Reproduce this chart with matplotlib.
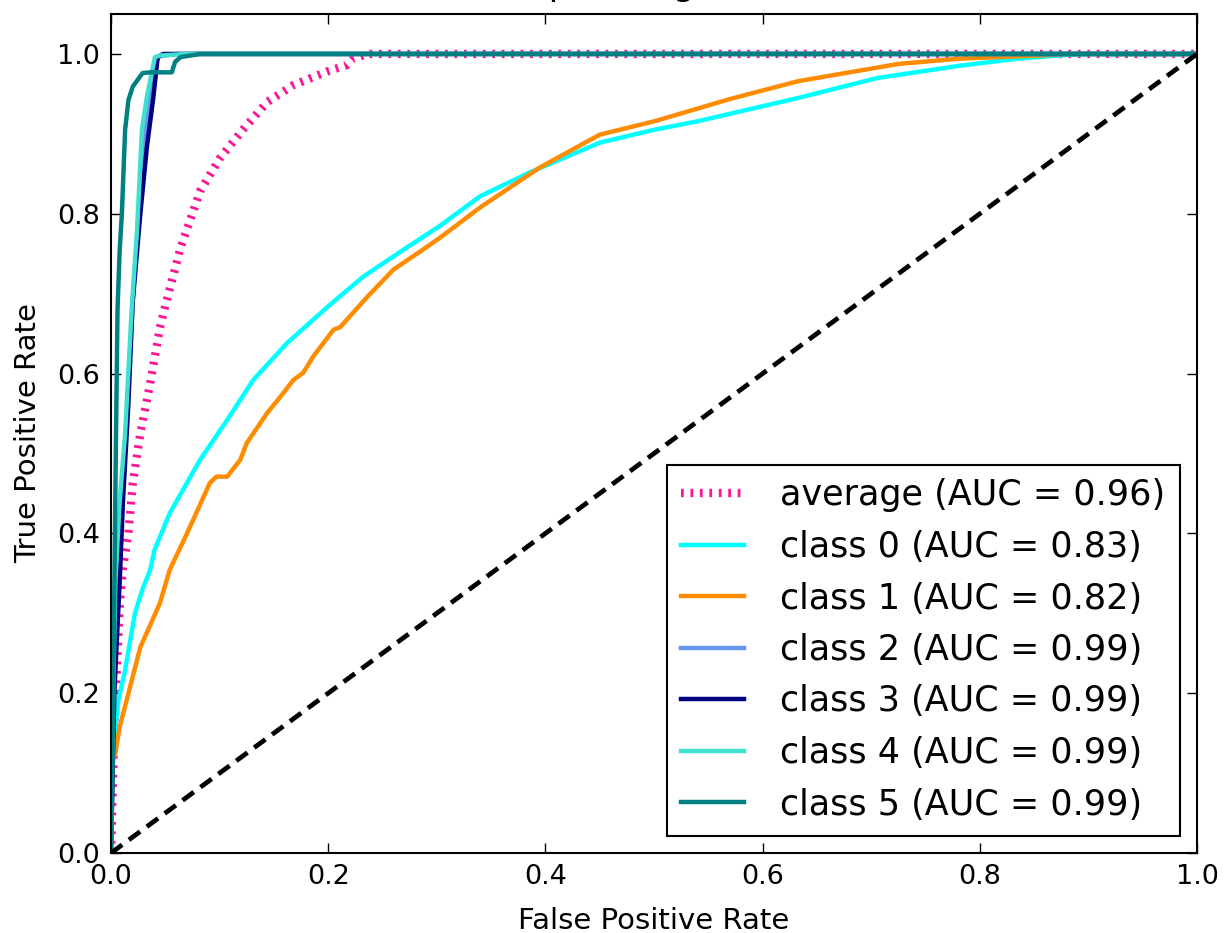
import matplotlib
matplotlib.use('Agg')
import matplotlib.pyplot as plt

# values
avg_fpr = [0.0, 0.001, 0.003, 0.005, 0.008, 0.011, 0.016, 0.020, 0.027, 0.036, 0.045, 0.051,
           0.064, 0.082, 0.100, 0.122, 0.144, 0.168, 0.199, 0.217, 0.223, 0.236, 1.0]
avg_tpr = [0.0, 0.05, 0.15, 0.22, 0.31, 0.357, 0.40, 0.462, 0.525, 0.587, 0.657, 0.69,
           0.757, 0.828, 0.869, 0.906, 0.94, 0.961, 0.978, 0.986, 0.994, 1.0, 1.0]

c0_fpr = [0.0, 0.001, 0.004, 0.0066, 0.013, 0.022, 0.029, 0.036, 0.040, 0.054, 0.082, 0.107,
          0.131, 0.162, 0.199, 0.232, 0.266, 0.303, 0.34, 0.386, 0.45, 0.50, 0.541, 0.633,
          0.706, 0.78, 0.834, 0.871, 0.90, 1.0]
c0_tpr = [0.0, 0.10, 0.154, 0.19, 0.229, 0.30, 0.33, 0.354, 0.379, 0.425, 0.492, 0.542,
          0.592, 0.638, 0.683, 0.721, 0.752, 0.785, 0.822, 0.852, 0.889, 0.905, 0.916, 0.945,
          0.97, 0.985, 0.994, 0.998, 1.0, 1.0]

c1_fpr = [0.0, 0.0, 0.004, 0.008, 0.0175, 0.027, 0.045, 0.054, 0.070, 0.091, 0.097, 0.107,
          0.119, 0.125, 0.144, 0.156, 0.168, 0.177, 0.186, 0.205, 0.211, 0.236, 0.26, 0.287,
          0.303, 0.34, 0.395, 0.45, 0.501, 0.571, 0.633, 0.725, 0.78, 0.853, 0.88, 1.0]
c1_tpr = [0.0, 0.11, 0.125, 0.1575, 0.2075, 0.2575, 0.3125, 0.354, 0.40, 0.463, 0.471, 0.471,
          0.492, 0.513, 0.551, 0.571, 0.592, 0.601, 0.621, 0.655, 0.658, 0.696, 0.730, 0.755,
          0.77, 0.808, 0.858, 0.899, 0.916, 0.944, 0.966, 0.9875, 0.994, 0.998, 1.0, 1.0]

c2_fpr = [0.0, 0.003, 0.006, 0.010, 0.015, 0.020, 0.025, 0.030, 0.035, 0.040, 0.044, 0.06, 1.0]
c2_tpr = [0.0, 0.2, 0.34, 0.44, 0.56, 0.69, 0.79, 0.89, 0.945, 0.985, 0.997, 1.0, 1.0]

c3_fpr = [0.0, 0.003, 0.008, 0.011, 0.016, 0.020, 0.027, 0.033, 0.039, 0.043, 0.048, 1.0]
c3_tpr = [0.0, 0.2, 0.34, 0.44, 0.5625, 0.69, 0.80, 0.883, 0.946, 0.996, 1.0, 1.0]

c4_fpr = [0.0, 0.002, 0.004, 0.008, 0.013, 0.019, 0.024, 0.0285, 0.033, 0.038, 0.0405, 0.045, 0.07, 1.0]
c4_tpr = [0.0, 0.2, 0.34, 0.44, 0.525, 0.68, 0.78, 0.905, 0.946, 0.98, 0.996, 0.998, 1.0, 1.0]

c5_fpr = [0.0, 0.002, 0.004, 0.006, 0.008, 0.010, 0.013, 0.016, 0.020, 0.029, 0.036, 0.056,
          0.059, 0.064, 0.082, 1.0]
c5_tpr = [0.0, 0.2, 0.45, 0.68, 0.755, 0.80, 0.905, 0.942, 0.959, 0.976, 0.977, 0.977,
          0.99, 0.996, 1.0, 1.0]

class_fpr = [c0_fpr, c1_fpr, c2_fpr, c3_fpr, c4_fpr, c5_fpr]
class_tpr = [c0_tpr, c1_tpr, c2_tpr, c3_tpr, c4_tpr, c5_tpr]
class_auc = [0.83, 0.82, 0.99, 0.99, 0.99, 0.99]
avg_auc = 0.96
colors = ['aqua', 'darkorange', 'cornflowerblue', 'navy', 'turquoise', 'teal']

plt.rcParams['font.family'] = 'DejaVu Sans'
plt.rcParams['lines.scale_dashes'] = False

W, H = 1229, 933
fig = plt.figure(figsize=(W / 100, H / 100), dpi=100)
fig.patch.set_facecolor('white')
ax = fig.add_axes([111 / W, 1 - 853 / H, (1197 - 111) / W, (853 - 14) / H])

ax.plot(avg_fpr, avg_tpr, color='deeppink', linewidth=6, linestyle=(0, (2.0, 4.8)),
        label='average (AUC = {0:0.2f})'.format(avg_auc))
for i in range(6):
    ax.plot(class_fpr[i], class_tpr[i], color=colors[i], linewidth=3.2,
            label='class {0} (AUC = {1:0.2f})'.format(i, class_auc[i]))
ax.plot([0, 1], [0, 1], color='k', linewidth=3.4, linestyle=(0, (10, 6)))

ax.set_xlim(0.0, 1.0)
ax.set_ylim(0.0, 1.05)
ax.set_xticks([0.0, 0.2, 0.4, 0.6, 0.8, 1.0])
ax.set_yticks([0.0, 0.2, 0.4, 0.6, 0.8, 1.0])
ax.tick_params(direction='in', top=True, right=True, length=7, width=1, pad=8,
               labelsize=19.5)
for s in ax.spines.values():
    s.set_linewidth(1.5)
ax.set_xlabel('False Positive Rate', fontsize=21, labelpad=12)
ax.set_ylabel('True Positive Rate', fontsize=21, labelpad=11)

# the title sits above the top edge of the picture, only descender tips show
fig.text(654 / W, 1 + 5 / H, 'Receiver operating characteristic', fontsize=25,
         ha='center', va='baseline')

leg = ax.legend(loc='lower right', fontsize=25.2, fancybox=False, framealpha=1,
                edgecolor='black', handlelength=1.8, handletextpad=1.05,
                labelspacing=0.5, borderpad=0.4, borderaxespad=0.5)
leg.get_frame().set_linewidth(1.5)

fig.savefig('out.png', dpi=100, facecolor='white')
